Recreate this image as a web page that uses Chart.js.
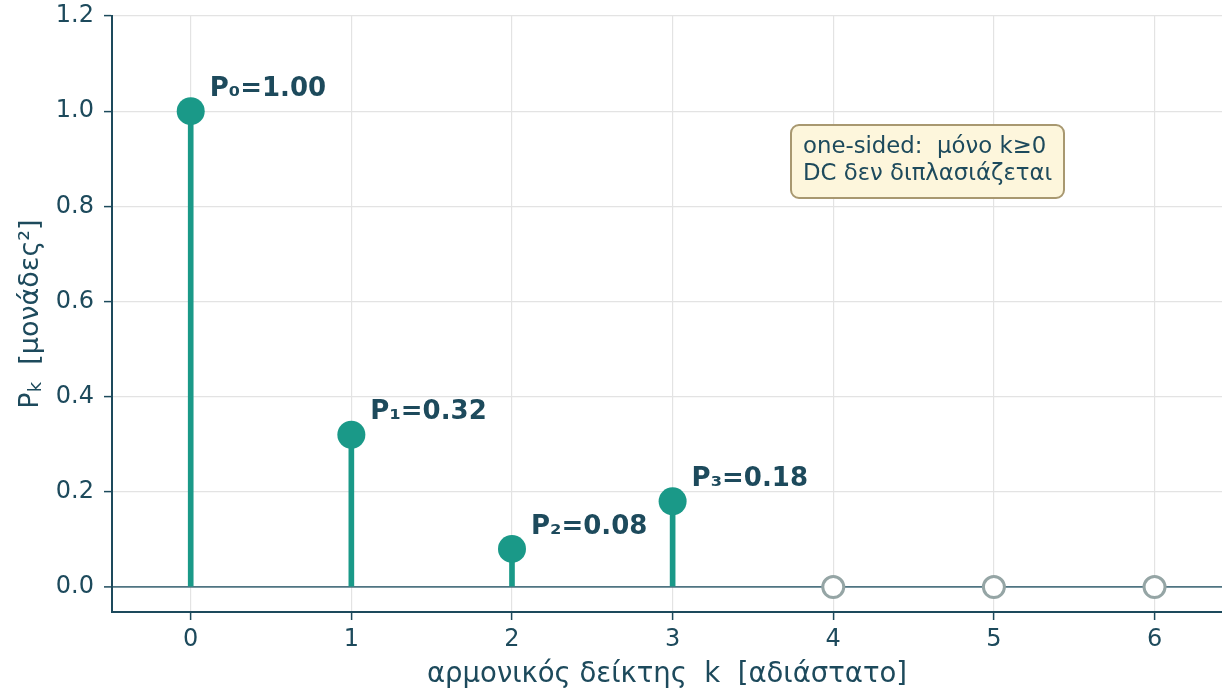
<!DOCTYPE html>
<html>
<head>
<meta charset="utf-8">
<script src="https://cdn.jsdelivr.net/npm/chart.js@4.4.1/dist/chart.umd.min.js"></script>
<style>
  html, body { margin: 0; padding: 0; background: #ffffff; overflow: hidden; }
  #c { display: block; }
</style>
</head>
<body>
<canvas id="c" width="1222" height="691"></canvas>
<script>
// Harmonic indices and one-sided power per harmonic
const harmonics = [0, 1, 2, 3, 4, 5, 6];
const power = [1.00, 0.32, 0.08, 0.18, 0.00, 0.00, 0.00];
const subscripts = ['₀', '₁', '₂', '₃', '₄', '₅', '₆'];
const yTicks = [0.0, 0.2, 0.4, 0.6, 0.8, 1.0, 1.2];
const noteLines = ['one-sided:  μόνο k≥0', 'DC δεν διπλασιάζεται'];
const yTitleParts = ['P', 'k', '  [μονάδες²]'];

const INK = '#1d4a5c';
const TEAL = '#1a9988';
const EMPTY = '#95a5a5';
const FONT = "'DejaVu Sans', sans-serif";

const points = harmonics.map((k, i) => ({ x: k, y: power[i] }));
const nonzero = points.filter(p => p.y > 0);

// value labels next to each non-zero harmonic
const valueLabels = {
  id: 'valueLabels',
  afterDatasetsDraw(chart) {
    const { ctx, scales: { x, y } } = chart;
    ctx.save();
    ctx.font = `bold 26px ${FONT}`;
    ctx.fillStyle = INK;
    ctx.textAlign = 'left';
    ctx.textBaseline = 'middle';
    harmonics.forEach((k, i) => {
      if (power[i] <= 0) return;
      const px = x.getPixelForValue(k);
      const py = y.getPixelForValue(power[i]);
      ctx.fillText(`P${subscripts[i]}=${power[i].toFixed(2)}`, px + 19, py - 22);
    });
    ctx.restore();
  }
};

// rotated y-axis title with a subscripted k
const yTitle = {
  id: 'yTitle',
  afterDraw(chart) {
    const { ctx, chartArea } = chart;
    const big = `27px ${FONT}`, small = `18px ${FONT}`;
    ctx.save();
    ctx.font = big;
    const w0 = ctx.measureText(yTitleParts[0]).width;
    const w2 = ctx.measureText(yTitleParts[2]).width;
    ctx.font = small;
    const w1 = ctx.measureText(yTitleParts[1]).width;
    const total = w0 + w1 + w2;
    const cy = (chartArea.top + chartArea.bottom) / 2;
    ctx.translate(31, cy);
    ctx.rotate(-Math.PI / 2);
    ctx.fillStyle = INK;
    ctx.textBaseline = 'middle';
    ctx.textAlign = 'left';
    let xPos = -total / 2;
    ctx.font = big;
    ctx.fillText(yTitleParts[0], xPos, 0);
    xPos += w0;
    ctx.font = small;
    ctx.fillText(yTitleParts[1], xPos, 5);
    xPos += w1;
    ctx.font = big;
    ctx.fillText(yTitleParts[2], xPos, 0);
    ctx.restore();
  }
};

// explanatory note box in the upper right
const noteBox = {
  id: 'noteBox',
  afterDraw(chart) {
    const { ctx } = chart;
    const bx = 791, by = 125, bw = 273, bh = 73;
    ctx.save();
    ctx.beginPath();
    ctx.roundRect(bx, by, bw, bh, 8);
    ctx.fillStyle = '#fdf6dc';
    ctx.fill();
    ctx.lineWidth = 2;
    ctx.strokeStyle = '#a89870';
    ctx.stroke();
    ctx.font = `22.8px ${FONT}`;
    ctx.fillStyle = INK;
    ctx.textAlign = 'left';
    ctx.textBaseline = 'middle';
    ctx.fillText(noteLines[0], bx + 12, by + 22);
    ctx.fillText(noteLines[1], bx + 12, by + 49);
    ctx.restore();
  }
};

new Chart(document.getElementById('c'), {
  type: 'scatter',
  data: {
    datasets: [
      {
        type: 'scatter',
        data: points,
        pointRadius: points.map(p => p.y > 0 ? 14 : 10.5),
        pointHoverRadius: points.map(p => p.y > 0 ? 14 : 10.5),
        pointBackgroundColor: points.map(p => p.y > 0 ? TEAL : '#ffffff'),
        pointBorderColor: points.map(p => p.y > 0 ? TEAL : EMPTY),
        pointBorderWidth: points.map(p => p.y > 0 ? 0 : 3),
        clip: false,
        order: 0
      },
      {
        type: 'bar',
        data: nonzero,
        backgroundColor: TEAL,
        borderWidth: 0,
        barThickness: 5,
        order: 1
      }
    ]
  },
  options: {
    responsive: false,
    animation: false,
    events: [],
    layout: { autoPadding: false, padding: { top: 16, right: 0, left: 0, bottom: 0 } },
    plugins: {
      legend: { display: false },
      tooltip: { enabled: false }
    },
    scales: {
      x: {
        type: 'linear',
        min: -0.49,
        max: 6.42,
        offset: false,
        afterBuildTicks(scale) { scale.ticks = harmonics.map(v => ({ value: v })); },
        afterFit(scale) {
          scale.height = 79;
          scale.paddingLeft = 0;
          scale.paddingRight = 0;
        },
        ticks: {
          color: INK,
          font: { family: FONT, size: 24 },
          padding: 5,
          callback: v => String(v)
        },
        grid: {
          color: '#e3e3e3',
          lineWidth: 1.2,
          offset: false,
          drawTicks: true,
          tickLength: 8,
          tickColor: INK,
          tickWidth: 1.5
        },
        border: { display: true, color: INK, width: 2 },
        title: {
          display: true,
          text: 'αρμονικός δείκτης  k  [αδιάστατο]',
          color: INK,
          font: { family: FONT, size: 27.5 },
          padding: { top: 5, bottom: 0 }
        }
      },
      y: {
        min: -0.0525,
        max: 1.2,
        afterBuildTicks(scale) { scale.ticks = yTicks.map(v => ({ value: v })); },
        afterFit(scale) {
          scale.width = 112;
          scale.paddingTop = 0;
          scale.paddingBottom = 0;
        },
        ticks: {
          color: INK,
          font: { family: FONT, size: 24 },
          padding: 10,
          callback: v => v.toFixed(1)
        },
        grid: {
          color: ctx => ctx.tick && ctx.tick.value === 0 ? '#4f7482' : '#e3e3e3',
          lineWidth: ctx => ctx.tick && ctx.tick.value === 0 ? 1.8 : 1.2,
          drawTicks: true,
          tickLength: 8,
          tickColor: INK,
          tickWidth: 1.5
        },
        border: { display: true, color: INK, width: 2 }
      }
    }
  },
  plugins: [valueLabels, yTitle, noteBox]
});
</script>
</body>
</html>
